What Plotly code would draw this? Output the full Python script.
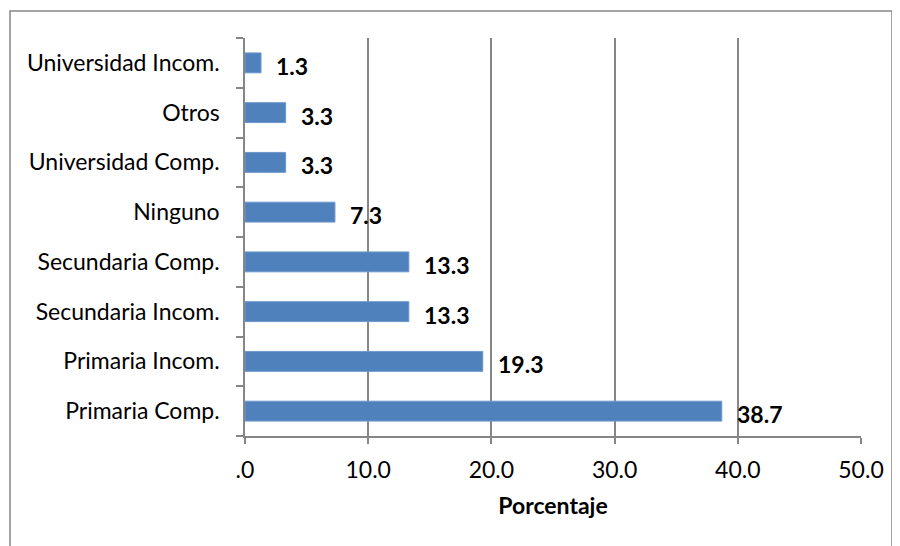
import plotly.graph_objects as go

categories = ["Primaria Comp.", "Primaria Incom.", "Secundaria Incom.", "Secundaria Comp.",
              "Ninguno", "Universidad Comp.", "Otros", "Universidad Incom."]
values = [38.7, 19.3, 13.3, 13.3, 7.3, 3.3, 3.3, 1.3]
tick_vals = [0, 10, 20, 30, 40, 50]
tick_text = [".0", "10.0", "20.0", "30.0", "40.0", "50.0"]
value_labels = ["%.1f" % v for v in values]

FONT = "Lato"
FS = 23
grid = "#868686"

fig = go.Figure()
fig.add_trace(go.Bar(
    x=values, y=categories, orientation="h",
    marker=dict(color="#4F81BD", line=dict(color="#6E97CC", width=1)),
    hoverinfo="skip",
))

annotations = []
for c, v, t in zip(categories, values, value_labels):
    annotations.append(dict(x=v, y=c, xref="x", yref="y", text="<b>%s</b>" % t,
                            showarrow=False, xanchor="left", yanchor="middle",
                            xshift=13, yshift=-3,
                            font=dict(family=FONT, size=FS, color="black")))

# page body has an 8px margin: figure coords = page coords - 8
OFF = 8
W, H = 900, 546
L, T = 245 - OFF, 38 - OFF
R = W - (861 - OFF)
B = H - (436 - OFF)
pw, ph = W - L - R, H - T - B
def px(x):
    return (x - OFF - L) / pw
def py(y):
    return (H - B - (y - OFF)) / ph

fig.update_layout(
    width=W, height=H,
    margin=dict(l=L, r=R, t=T, b=B, pad=0, autoexpand=False),
    paper_bgcolor="white", plot_bgcolor="white",
    bargap=0.6,
    showlegend=False,
    font=dict(family=FONT, size=FS, color="black"),
    annotations=annotations,
    shapes=[dict(type="rect", xref="paper", yref="paper",
                 x0=px(10), x1=px(892), y0=py(570), y1=py(11),
                 line=dict(color="#868686", width=1.5), layer="below")],
    xaxis=dict(range=[0, 50], tickvals=tick_vals, ticktext=tick_text,
               showgrid=True, gridcolor=grid, gridwidth=1.5,
               showline=True, linecolor=grid, linewidth=1.5,
               ticks="outside", ticklen=6, tickcolor=grid, tickwidth=1.5,
               ticklabelstandoff=7,
               zeroline=False, fixedrange=True, automargin=False,
               title=dict(text="<b>Porcentaje</b>", font=dict(size=FS), standoff=16),
               tickfont=dict(size=FS)),
    yaxis=dict(categoryorder="array", categoryarray=categories,
               showgrid=False, showline=True, linecolor=grid, linewidth=1.5,
               ticks="outside", ticklen=7, tickcolor=grid, tickwidth=1.5,
               tickson="boundaries", ticklabelstandoff=19, automargin=False,
               tickfont=dict(size=FS), fixedrange=True),
)

fig.write_html("out.html")
